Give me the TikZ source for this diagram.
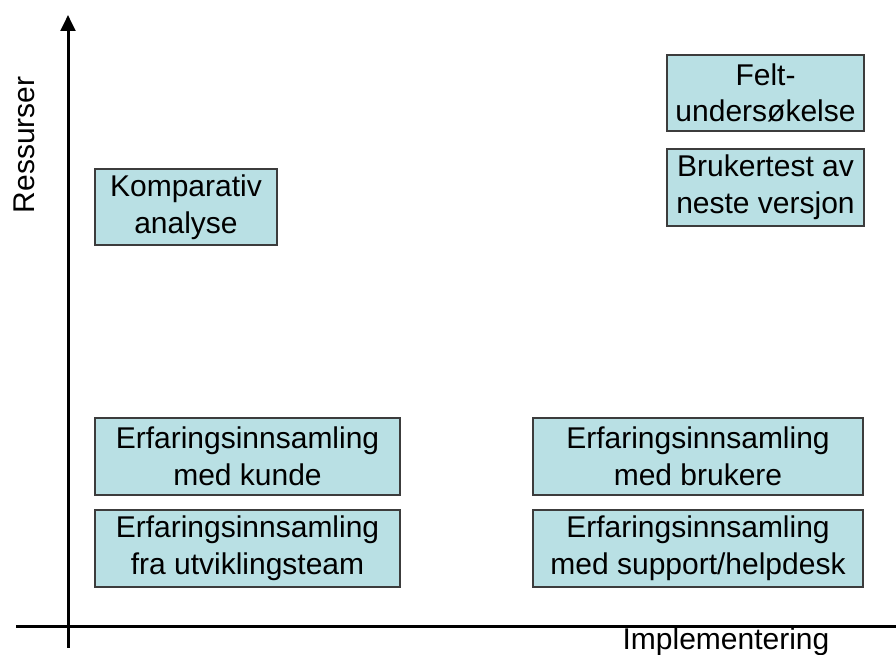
\documentclass[tikz,border=0pt]{standalone}
\usepackage{fontspec}
\setmainfont{Liberation Sans}
\usetikzlibrary{arrows.meta}

\definecolor{boxfill}{RGB}{185,224,228}
\definecolor{boxline}{RGB}{60,60,60}

\begin{document}
\begin{tikzpicture}
  [x=0.75pt,y=0.75pt,
   method/.style={rectangle,draw=boxline,line width=1pt,fill=boxfill,
     align=center,inner sep=0pt,font=\fontsize{22.5}{27.5}\selectfont},
   axislabel/.style={inner sep=0pt,font=\fontsize{22.5}{27.5}\selectfont},
   axis/.style={line width=2.25pt}]
  \useasboundingbox (0,0) rectangle (896,655);
  \clip (0,0) rectangle (896,655);

  \coordinate (ybot) at (68,7);
  \coordinate (ytop) at (68,640);
  \coordinate (xleft) at (16,28);
  \coordinate (xright) at (912,28);

  \draw [axis,-{Triangle[length=12pt,width=11pt]}] (ybot) to (ytop);
  \draw [axis,-{Triangle[length=12pt,width=11pt]}] (xleft) to (xright);

  \node (ress) at (24,510) [axislabel,rotate=90] {Ressurser};
  \node (impl) at (726,13) [axislabel] {Implementering};

  \node (komp) at (186,448)
    [method,minimum width=182*0.75pt,minimum height=76*0.75pt]
    {Komparativ\\analyse};
  \node (felt) at (765.5,562)
    [method,minimum width=197*0.75pt,minimum height=76*0.75pt]
    {Felt-\\undersøkelse};
  \node (test) at (765.5,467.5)
    [method,minimum width=197*0.75pt,minimum height=77*0.75pt]
    {Brukertest av\\neste versjon};

  \node (kunde) at (247.5,198.5)
    [method,minimum width=305*0.75pt,minimum height=77*0.75pt]
    {Erfaringsinnsamling\\med kunde};
  \node (team) at (247.5,106.5)
    [method,minimum width=305*0.75pt,minimum height=77*0.75pt]
    {Erfaringsinnsamling\\fra utviklingsteam};
  \node (brukere) at (698,198.5)
    [method,minimum width=330*0.75pt,minimum height=77*0.75pt]
    {Erfaringsinnsamling\\med brukere};
  \node (support) at (698,106.5)
    [method,minimum width=330*0.75pt,minimum height=77*0.75pt]
    {Erfaringsinnsamling\\med support/helpdesk};
\end{tikzpicture}
\end{document}
